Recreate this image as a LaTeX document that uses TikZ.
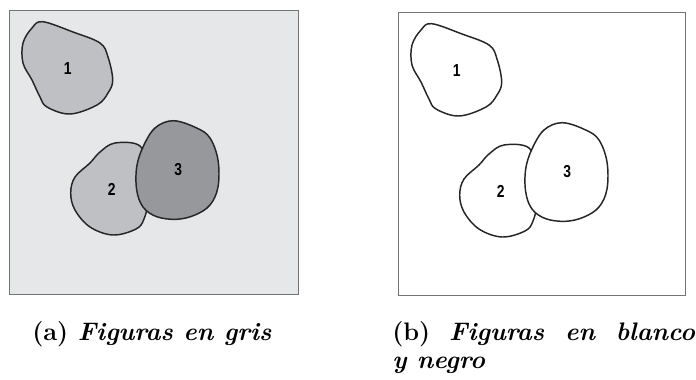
\documentclass[tikz,border=0pt]{standalone}
\usepackage{fontspec}
\newfontfamily\lblfont[FakeStretch=0.8]{Liberation Sans}
\begin{document}
\begin{tikzpicture}[x=0.75pt,y=-0.75pt,
  panel/.style={draw=black!55,line width=0.9pt},
  blob/.style={draw=black!85,line width=1.1pt},
  lbl/.style={font=\lblfont\bfseries\fontsize{13}{13}\selectfont,inner sep=0pt},
  captext/.style={font=\fontsize{19}{21.5}\selectfont\bfseries,anchor=base west,inner sep=0pt}]
\useasboundingbox (0,0) rectangle (696,379);
\definecolor{bgpanel}{HTML}{E6E7E9}
\definecolor{lightblob}{HTML}{BFC0C3}
\definecolor{darkblob}{HTML}{97989B}
% left panel
\node[panel,fill=bgpanel,minimum width=289*0.75pt,minimum height=284*0.75pt,anchor=north west,inner sep=0pt] (pa) at (9,10) {};
\draw[blob,fill=lightblob] plot[smooth cycle,tension=0.6] coordinates {(42.7,21.7) (73,32) (100,43) (108,57) (112.7,80) (108,93) (97,105) (70,114) (47,107) (40,97) (32,80) (23,63) (23,43) (32,28)};
\draw[blob,fill=lightblob] plot[smooth cycle,tension=0.6] coordinates {(115,143) (140,146) (146,170) (148,200) (144,219) (136,229) (113,235) (90,227) (75,210) (70.7,193) (75,177) (90,163) (100,152)};
\draw[blob,fill=darkblob] plot[smooth cycle,tension=0.6] coordinates {(173.3,120.7) (196.7,128) (210,138) (218,160) (218,187) (210,205) (195,215) (176.7,219.3) (156.7,216.7) (143,207) (136.7,190) (136.7,167) (143,147) (155,128)};
\node[lbl] (a1) at (67.7,68.3) {1};
\node[lbl] (a2) at (111.7,189.3) {2};
\node[lbl] (a3) at (178.3,170) {3};
% right panel
\node[panel,fill=white,minimum width=287*0.75pt,minimum height=283*0.75pt,anchor=north west,inner sep=0pt] (pb) at (398,12) {};
\begin{scope}[shift={(389,2)}]
\draw[blob] plot[smooth cycle,tension=0.6] coordinates {(42.7,21.7) (73,32) (100,43) (108,57) (112.7,80) (108,93) (97,105) (70,114) (47,107) (40,97) (32,80) (23,63) (23,43) (32,28)};
\draw[blob,fill=white] plot[smooth cycle,tension=0.6] coordinates {(115,143) (140,146) (146,170) (148,200) (144,219) (136,229) (113,235) (90,227) (75,210) (70.7,193) (75,177) (90,163) (100,152)};
\draw[blob,fill=white] plot[smooth cycle,tension=0.6] coordinates {(173.3,120.7) (196.7,128) (210,138) (218,160) (218,187) (210,205) (195,215) (176.7,219.3) (156.7,216.7) (143,207) (136.7,190) (136.7,167) (143,147) (155,128)};
\node[lbl] (b1) at (67.7,68.3) {1};
\node[lbl] (b2) at (111.7,189.3) {2};
\node[lbl] (b3) at (178.3,170) {3};
\end{scope}
% captions
\node[captext] (ca) at (32,340) {(a) \textit{Figuras en gris}};
\node[captext,text width=303*0.75pt,align=justify] (cb) at (392,340) {(b) \textit{Figuras en blanco}\linebreak \textit{y negro}};
\end{tikzpicture}
\end{document}
